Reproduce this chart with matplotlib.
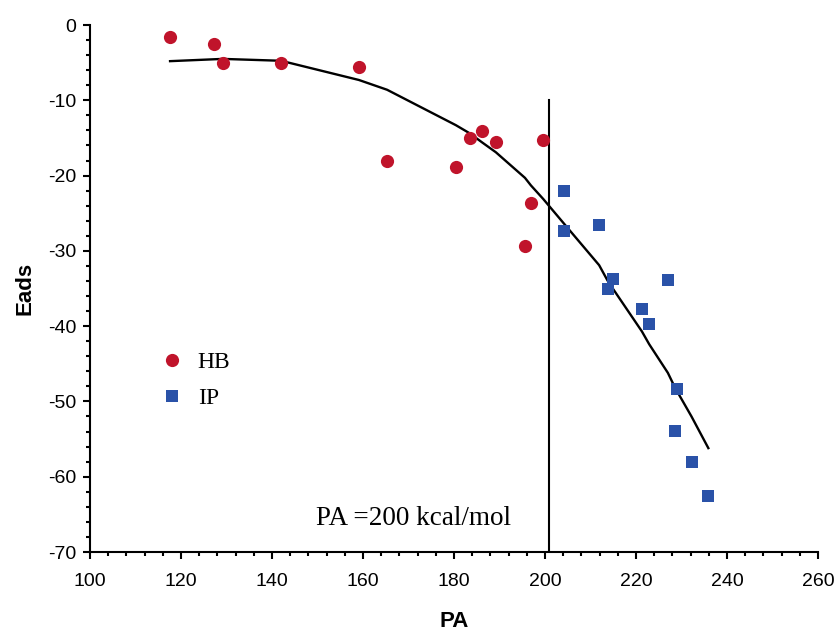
import numpy as np
import matplotlib.pyplot as plt
from matplotlib.ticker import MultipleLocator

# HB points (circles)
hb_pa = [117.6, 127.3, 129.2, 142.0, 159.1, 165.3, 180.4, 183.5, 186.2, 189.2, 199.6, 196.9, 195.6]
hb_e = [-1.6, -2.5, -5.1, -5.1, -5.6, -18.0, -18.8, -15.0, -14.1, -15.6, -15.3, -23.7, -29.3]

# IP points (squares)
ip_pa = [204.2, 204.2, 211.9, 214.9, 213.8, 221.3, 222.9, 227.0, 229.0, 228.6, 232.2, 235.9]
ip_e = [-22.1, -27.3, -26.6, -33.7, -35.1, -37.7, -39.7, -33.9, -48.3, -53.9, -58.0, -62.5]

# trend line
fit_pa = [117.6, 129.2, 142.0, 159.1, 165.3, 180.4, 183.5, 186.2, 189.2, 195.6, 196.9,
          199.6, 204.2, 211.9, 213.8, 214.9, 221.3, 222.9, 227.0, 228.6, 232.2, 235.9]
fit_e = [-4.8, -4.5, -4.75, -7.3, -8.6, -13.3, -14.4, -15.6, -16.9, -20.3, -21.3,
         -23.1, -26.4, -31.9, -34.0, -35.0, -40.7, -42.4, -46.2, -48.2, -52.0, -56.2]

marker_line = 200.9

red = '#c0142b'
blue = '#2a52a8'

plt.rcParams['font.family'] = 'Liberation Sans'
plt.rcParams['axes.unicode_minus'] = False

fig = plt.figure(figsize=(8.37, 6.35), dpi=100)
ax = fig.add_axes([0.1075, 0.1307, 0.8698, 0.8299])

ax.plot(fit_pa, fit_e, color='black', lw=1.7, zorder=2)
ax.plot([marker_line, marker_line], [-10, -70], color='black', lw=1.5, zorder=2)
ax.plot(hb_pa, hb_e, 'o', color=red, ms=9.5, mec=red, mew=0, label='HB', zorder=3)
ax.plot(ip_pa, ip_e, 's', color=blue, ms=9, mec=blue, mew=0, label='IP', zorder=3)

ax.set_xlim(100, 260)
ax.set_ylim(-70, 0)
ax.xaxis.set_major_locator(MultipleLocator(20))
ax.xaxis.set_minor_locator(MultipleLocator(4))
ax.yaxis.set_major_locator(MultipleLocator(10))
ax.yaxis.set_minor_locator(MultipleLocator(2))

for s in ['top', 'right']:
    ax.spines[s].set_visible(False)
for s in ['left', 'bottom']:
    ax.spines[s].set_linewidth(1.5)

ax.tick_params(which='major', direction='out', length=5, width=1.5, labelsize=14)
ax.tick_params(which='minor', direction='out', length=3, width=1.5)
ax.tick_params(axis='x', which='major', pad=10)
ax.tick_params(axis='y', which='major', pad=5)

ax.set_xlabel('PA', fontsize=16, fontweight='bold', labelpad=15)
ax.set_ylabel('Eads', fontsize=16, fontweight='bold', labelpad=9)

ax.text(0.31, 0.064, 'PA =200 kcal/mol', transform=ax.transAxes, fontsize=19.5,
        family='Liberation Serif', va='center', ha='left')

ax.legend(loc='upper left', bbox_to_anchor=(0.067, 0.42), frameon=False,
          prop={'family': 'Liberation Serif', 'size': 17}, handletextpad=0.6,
          labelspacing=0.6, handlelength=1.0)

fig.savefig('out.png', dpi=100)
